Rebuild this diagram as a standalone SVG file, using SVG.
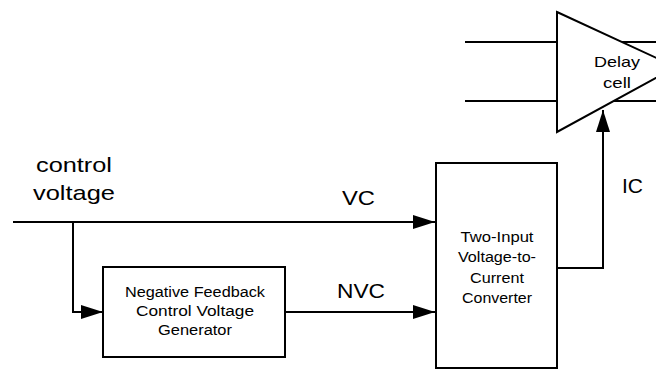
<svg xmlns="http://www.w3.org/2000/svg" width="656" height="371" viewBox="0 0 656 371">
  <style>
    .box { fill: #ffffff; stroke: #000000; stroke-width: 2; }
    .wire { fill: none; stroke: #000000; stroke-width: 2; }
    .lbl { font-family: "Liberation Sans", Arial, sans-serif; font-size: 21px; fill: #000000; }
    .small { font-family: "Liberation Sans", Arial, sans-serif; font-size: 14px; fill: #000000; text-anchor: middle; }
    .cell { font-family: "Liberation Sans", Arial, sans-serif; font-size: 15px; fill: #000000; text-anchor: middle; }
  </style>
  <defs>
    <marker id="arrow" markerUnits="userSpaceOnUse" markerWidth="22" markerHeight="14" refX="22" refY="7" orient="auto">
      <path d="M0,0 L22,7 L0,14 Z" fill="#000000"/>
    </marker>
  </defs>
  <rect width="656" height="371" fill="#ffffff"/>

  <g id="connectors">
    <!-- delay cell input lines -->
    <line class="wire" x1="465" y1="42" x2="557" y2="42"/>
    <line class="wire" x1="465" y1="101" x2="557" y2="101"/>
    <!-- delay cell output lines -->
    <line class="wire" x1="621" y1="42" x2="656" y2="42"/>
    <line class="wire" x1="613" y1="101" x2="656" y2="101"/>
    <!-- control voltage / VC -->
    <line class="wire" x1="13" y1="222" x2="435" y2="222" marker-end="url(#arrow)"/>
    <!-- branch to NFB -->
    <polyline class="wire" points="73,222 73,312 103,312" marker-end="url(#arrow)"/>
    <!-- NVC -->
    <line class="wire" x1="285" y1="312" x2="435" y2="312" marker-end="url(#arrow)"/>
    <!-- IC -->
    <polyline class="wire" points="557,268 603,268 603,110" marker-end="url(#arrow)"/>
  </g>

  <g id="delay-cell">
    <polygon class="box" points="557,12 676,67 557,132"/>
    <text class="cell" x="617" y="67" textLength="46" lengthAdjust="spacingAndGlyphs">Delay</text>
    <text class="cell" x="617" y="88" textLength="28" lengthAdjust="spacingAndGlyphs">cell</text>
  </g>

  <g id="nfb-generator">
    <rect class="box" x="103" y="267" width="182" height="90"/>
    <text class="small" x="195" y="297" textLength="140" lengthAdjust="spacingAndGlyphs">Negative Feedback</text>
    <text class="small" x="195" y="316" textLength="118" lengthAdjust="spacingAndGlyphs">Control Voltage</text>
    <text class="small" x="195" y="335" textLength="74" lengthAdjust="spacingAndGlyphs">Generator</text>
  </g>

  <g id="converter">
    <rect class="box" x="436" y="163" width="121" height="205"/>
    <text class="small" x="497" y="242" textLength="73" lengthAdjust="spacingAndGlyphs">Two-Input</text>
    <text class="small" x="497" y="262" textLength="78" lengthAdjust="spacingAndGlyphs">Voltage-to-</text>
    <text class="small" x="497" y="283" textLength="54" lengthAdjust="spacingAndGlyphs">Current</text>
    <text class="small" x="497" y="303" textLength="70" lengthAdjust="spacingAndGlyphs">Converter</text>
  </g>

  <g id="labels">
    <text class="lbl" x="36" y="172" textLength="76" lengthAdjust="spacingAndGlyphs">control</text>
    <text class="lbl" x="33" y="200" textLength="82" lengthAdjust="spacingAndGlyphs">voltage</text>
    <text class="lbl" x="342" y="205" textLength="33" lengthAdjust="spacingAndGlyphs">VC</text>
    <text class="lbl" x="337" y="298" textLength="48" lengthAdjust="spacingAndGlyphs">NVC</text>
    <text class="lbl" x="622" y="193" textLength="21" lengthAdjust="spacingAndGlyphs">IC</text>
  </g>
</svg>
